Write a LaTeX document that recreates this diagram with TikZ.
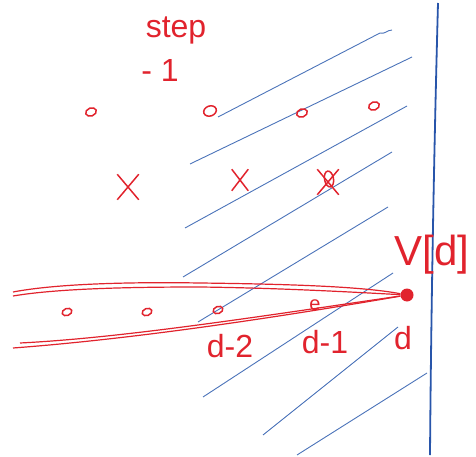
\documentclass[tikz,border=0pt]{standalone}
\usepackage{fontspec}
\setmainfont{Liberation Sans}
\usetikzlibrary{shapes.geometric,shapes.misc}
\definecolor{pen}{RGB}{225,35,45}
\definecolor{ink}{RGB}{40,85,170}
\definecolor{hatch}{RGB}{75,115,185}
\begin{document}
\begin{tikzpicture}[x=1pt,y=-1pt,
  handtext/.style={text=pen,font=\fontsize{32}{34}\selectfont,inner sep=0pt},
  oval/.style={draw=pen,line width=1.5pt,ellipse,minimum width=11pt,minimum height=8pt,inner sep=0pt,rotate=20},
  xmark/.style={draw=pen,line width=1.5pt,cross out,minimum width=20pt,minimum height=24pt,inner sep=0pt},
  hatchline/.style={draw=hatch,line width=0.9pt},
  redline/.style={draw=pen,line width=1.2pt}]
\useasboundingbox (0,0) rectangle (476,457);
% blue wall
\draw[ink,line width=1.8pt] (438,3) .. controls (434,150) and (431,320) .. (430,455);
% hatching
\draw[hatchline] (218,117) -- (380,33) to[out=-20,in=180] (392,30);
\draw[hatchline] (190,164) -- (412,57);
\draw[hatchline] (185,228) -- (407,106);
\draw[hatchline] (183,277) -- (392,152);
\draw[hatchline] (198,322) -- (388,207);
\draw[hatchline] (203,397) -- (393,273);
\draw[hatchline] (263,435) -- (398,327);
\draw[hatchline] (297,455) -- (427,373);
% texts
\node[handtext] (step) at (176,30) {step};
\node[handtext] (minus) at (160,70) {- 1};
% row 1
\node[oval] (a1) at (91,112) {};
\node[oval,minimum width=13pt,minimum height=10pt] (a2) at (210,111) {};
\node[oval] (a3) at (302,113) {};
\node[oval] (a4) at (374,106) {};
% row 2
\node[xmark] (b1) at (128,187) {};
\node[xmark,minimum width=15pt,minimum height=20pt] (b2) at (240,180) {};
\node[xmark] (b3) at (328,182) {};
\node[oval,minimum width=9pt,minimum height=16pt,rotate=-10] (b3o) at (329,179) {};
% row 3
\node[oval,minimum width=10pt,minimum height=7pt] (c1) at (67,312) {};
\node[oval,minimum width=10pt,minimum height=7pt] (c2) at (147,312) {};
\node[oval,minimum width=10pt,minimum height=7pt] (c3) at (218,310) {};
\node[handtext,font=\fontsize{20}{22}\selectfont] (c4) at (315,305) {e};
\node[circle,fill=pen,minimum size=13pt,inner sep=0pt] (dot) at (407,295) {};
% labels
\node[handtext] (l2) at (230,346) {d-2};
\node[handtext] (l1) at (325,342) {d-1};
\node[handtext] (l0) at (403,338) {d};
\node[handtext,font=\fontsize{42}{44}\selectfont] (vd) at (432,255) {V[d]};
% red band lines
\coordinate (u1) at (13,292);
\coordinate (u2) at (13,296);
\coordinate (w1) at (13,348);
\coordinate (w2) at (20,343);
\draw[redline] (u1) .. controls (60,283) and (140,282) .. (200,283) .. controls (280,284) and (360,286) .. (dot);
\draw[redline] (u2) .. controls (60,288) and (140,287) .. (200,287) .. controls (280,288) and (350,292) .. (dot);
\draw[redline] (w1) .. controls (120,340) and (250,322) .. (dot);
\draw[redline] (w2) .. controls (120,338) and (250,318) .. (dot);
\end{tikzpicture}
\end{document}
